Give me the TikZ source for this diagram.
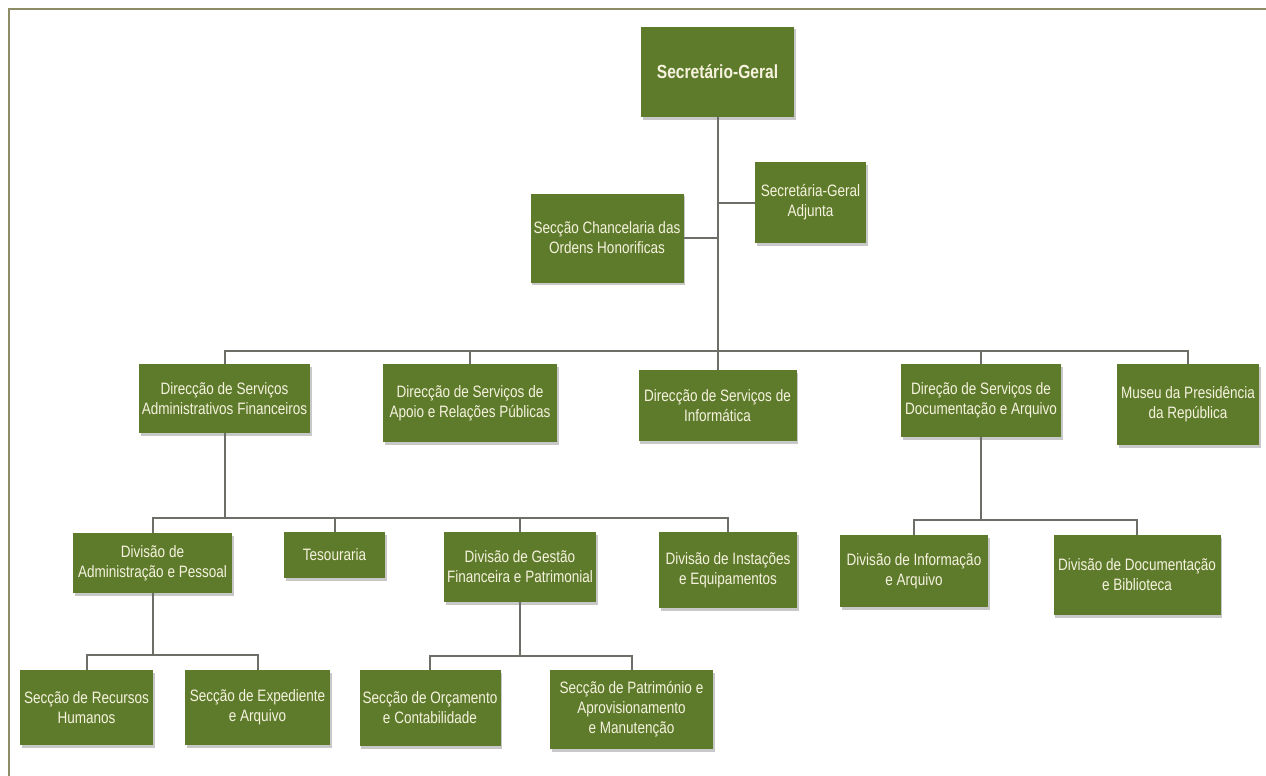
\documentclass[tikz,border=0pt]{standalone}
\usepackage{fontspec}
\setmainfont[FakeStretch=0.82]{Liberation Sans}
\usetikzlibrary{shadows}
\definecolor{boxgreen}{HTML}{5E7B2C}
\definecolor{boxtext}{HTML}{F6F2DE}
\definecolor{linegray}{HTML}{6E6E68}
\definecolor{framecol}{HTML}{8C8C66}
\tikzset{
  orgbox/.style={draw=none, fill=boxgreen, text=boxtext, align=center, inner sep=1pt,
    font=\fontsize{16.5}{20}\selectfont,
    drop shadow={shadow xshift=1.5pt, shadow yshift=-2.5pt, opacity=.3, fill=black!70}},
  conn/.style={draw=linegray, line width=2pt}
}
\begin{document}
\begin{tikzpicture}[x=1pt,y=-1pt]
\useasboundingbox (0,0) rectangle (1266,776);
\fill[white] (0,0) rectangle (1266,776);
\draw[framecol, line width=2.5pt] (9,776) -- (9,9) -- (1266,9);

% top
\node[orgbox, minimum width=153pt, minimum height=90pt, font=\bfseries\fontsize{19}{23}\selectfont] (sg) at (717.5,72) {Secretário-Geral};
\node[orgbox, minimum width=111pt, minimum height=81pt] (sga) at (810.5,202.5) {Secretária-Geral\\Adjunta};
\node[orgbox, minimum width=153pt, minimum height=89pt] (sco) at (607,238) {Secção Chancelaria das\\Ordens Honorificas};

% level 2
\node[orgbox, minimum width=171pt, minimum height=69pt] (dsaf) at (224.5,398.5) {Direcção de Serviços\\Administrativos Financeiros};
\node[orgbox, minimum width=174pt, minimum height=78pt] (dsarp) at (470,403) {Direcção de Serviços de\\Apoio e Relações Públicas};
\node[orgbox, minimum width=158pt, minimum height=71pt] (dsi) at (717.5,405.5) {Direcção de Serviços de\\Informática};
\node[orgbox, minimum width=160pt, minimum height=73pt] (dsda) at (981,400.5) {Direção de Serviços de\\Documentação e Arquivo};
\node[orgbox, minimum width=142pt, minimum height=81pt] (mus) at (1188,404.5) {Museu da Presidência\\da República};

% level 3
\node[orgbox, minimum width=159pt, minimum height=60pt] (dap) at (152.5,563) {Divisão de\\Administração e Pessoal};
\node[orgbox, minimum width=101pt, minimum height=46pt] (tes) at (334.5,555) {Tesouraria};
\node[orgbox, minimum width=152pt, minimum height=70pt] (dgfp) at (520,567) {Divisão de Gestão\\Financeira e Patrimonial};
\node[orgbox, minimum width=138pt, minimum height=76pt] (die) at (728,570) {Divisão de Instações\\e Equipamentos};
\node[orgbox, minimum width=148pt, minimum height=72pt] (dia) at (914,571) {Divisão de Informação\\e Arquivo};
\node[orgbox, minimum width=167pt, minimum height=80pt] (ddb) at (1137,575) {Divisão de Documentação\\e Biblioteca};

% level 4
\node[orgbox, minimum width=133pt, minimum height=75pt] (srh) at (86.5,707.5) {Secção de Recursos\\Humanos};
\node[orgbox, minimum width=145pt, minimum height=75pt] (sea) at (257.5,707.5) {Secção de Expediente\\e Arquivo};
\node[orgbox, minimum width=141pt, minimum height=76pt] (soc) at (430,708) {Secção de Orçamento\\e Contabilidade};
\node[orgbox, minimum width=163pt, minimum height=79pt] (spam) at (631.5,709.5) {Secção de Património e\\Aprovisionamento\\e Manutenção};

% bus coordinates
\coordinate (b1) at (0,351);
\coordinate (b2) at (0,518);
\coordinate (b3) at (0,520);
\coordinate (b4) at (0,655);
\coordinate (b5) at (0,656);

% connectors
\draw[conn] (sg.south) -- (sg.south |- dsi.north);
\draw[conn] (sga.west) -- (sga.west -| sg.south);
\draw[conn] (sco.east) -- (sco.east -| sg.south);
\draw[conn] (dsaf.north) -- (dsaf.north |- b1) -- (mus.north |- b1) -- (mus.north);
\draw[conn] (dsarp.north) -- (dsarp.north |- b1);
\draw[conn] (dsda.north) -- (dsda.north |- b1);

\draw[conn] (dsaf.south) -- (dsaf.south |- b2);
\draw[conn] (dap.north) -- (dap.north |- b2) -- (die.north |- b2) -- (die.north);
\draw[conn] (tes.north) -- (tes.north |- b2);
\draw[conn] (dgfp.north) -- (dgfp.north |- b2);

\draw[conn] (dsda.south) -- (dsda.south |- b3);
\draw[conn] (dia.north) -- (dia.north |- b3) -- (ddb.north |- b3) -- (ddb.north);

\draw[conn] (dap.south) -- (dap.south |- b4);
\draw[conn] (srh.north) -- (srh.north |- b4) -- (sea.north |- b4) -- (sea.north);

\draw[conn] (dgfp.south) -- (dgfp.south |- b5);
\draw[conn] (soc.north) -- (soc.north |- b5) -- (spam.north |- b5) -- (spam.north);
\end{tikzpicture}
\end{document}
